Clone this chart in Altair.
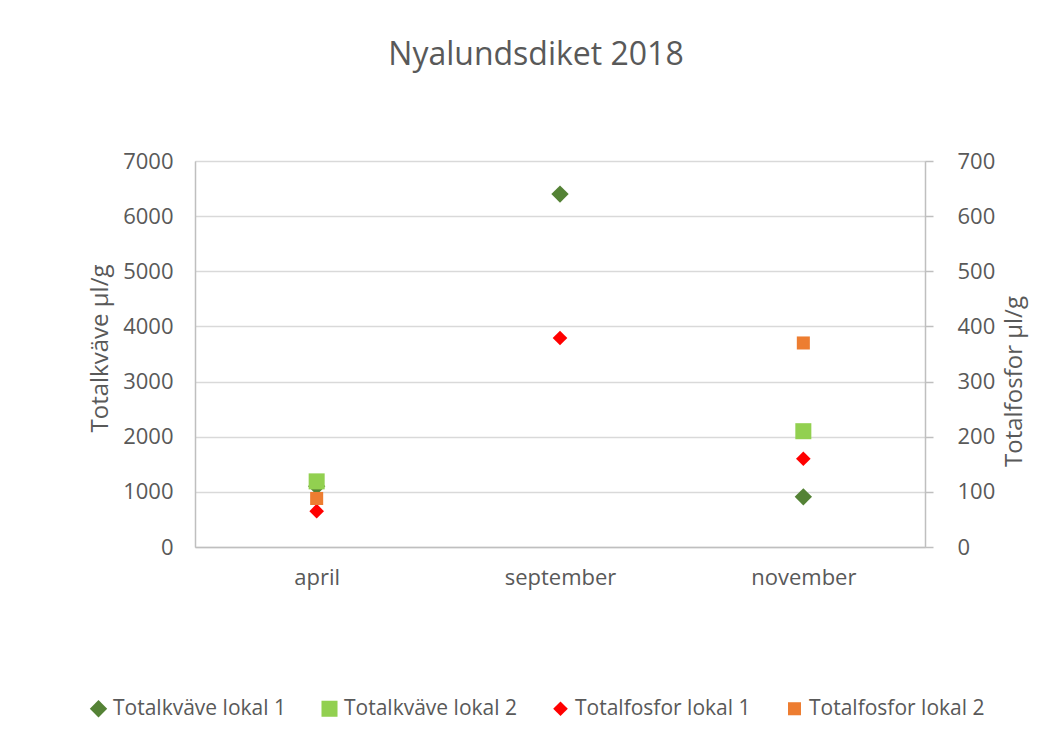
import altair as alt
import pandas as pd

months = ["april", "september", "november"]
series_names = ["Totalkväve lokal 1", "Totalkväve lokal 2", "Totalfosfor lokal 1", "Totalfosfor lokal 2"]
kvave_lokal1 = [1100, 6400, 910]
kvave_lokal2 = [1190, None, 2100]
fosfor_lokal1 = [65, 379, 160]
fosfor_lokal2 = [88, None, 370]

colors = ["#548235", "#92D050", "#FF0000", "#ED7D31"]
shapes = ["diamond", "square", "diamond", "square"]
marker_sizes = [300, 170, 300, 170]

def long(vals, name):
    return [{"month": m, "value": v, "serie": name} for m, v in zip(months, vals) if v is not None]

kv = pd.DataFrame(long(kvave_lokal1, series_names[0]) + long(kvave_lokal2, series_names[1]))
fo = pd.DataFrame(long(fosfor_lokal1, series_names[2]) + long(fosfor_lokal2, series_names[3]))

FONT = "Open Sans"
TXT = "#595959"
LINE = "#BFBFBF"

color_enc = alt.Color("serie:N", scale=alt.Scale(domain=series_names, range=colors),
                      legend=alt.Legend(title=None, orient="none", legendX=-107, legendY=537,
                                        direction="horizontal", columns=4, columnPadding=33,
                                        symbolSize=110, symbolStrokeWidth=0, labelOffset=4,
                                        labelFontSize=21, labelColor=TXT, labelFont=FONT,
                                        labelLimit=300))
shape_enc = alt.Shape("serie:N", scale=alt.Scale(domain=series_names, range=shapes), legend=None)
size_enc = alt.Size("serie:N", scale=alt.Scale(domain=series_names, range=marker_sizes), legend=None)

x_enc = alt.X("month:N", sort=months, scale=alt.Scale(domain=months),
              axis=alt.Axis(title=None, labelAngle=0, labelFontSize=22, labelColor=TXT, labelFont=FONT,
                            labelPadding=20, ticks=False, domain=True, domainColor=LINE,
                            domainWidth=1.5, grid=False))

left = alt.Chart(kv).mark_point(filled=True, opacity=1).encode(
    x=x_enc,
    y=alt.Y("value:Q", scale=alt.Scale(domain=[0, 7000], nice=False),
            axis=alt.Axis(title="Totalkväve µl/g", values=list(range(0, 7001, 1000)), format="d",
                          labelFontSize=22, labelColor=TXT, labelFont=FONT, labelPadding=22,
                          ticks=False, domain=True, domainColor=LINE, domainWidth=1.5,
                          grid=True, gridColor="#D9D9D9", gridWidth=1.5,
                          titleFontSize=24, titleFontWeight="normal", titleColor=TXT,
                          titleFont=FONT, titlePadding=10, titleY=187)),
    color=color_enc,
    shape=shape_enc,
    size=size_enc,
)

right = alt.Chart(fo).mark_point(filled=True, opacity=1).encode(
    x=x_enc,
    y=alt.Y("value:Q", scale=alt.Scale(domain=[0, 700], nice=False),
            axis=alt.Axis(title="Totalfosfor µl/g", orient="right", values=list(range(0, 701, 100)),
                          format="d",
                          labelFontSize=22, labelColor=TXT, labelFont=FONT, labelPadding=24,
                          ticks=True, tickSize=8, tickColor=LINE, tickWidth=1.5,
                          domain=True, domainColor=LINE, domainWidth=1.5, grid=False,
                          titleFontSize=24, titleFontWeight="normal", titleColor=TXT,
                          titleFont=FONT, titlePadding=8, titleAngle=270, titleBaseline="top",
                          titleY=220)),
    color=color_enc,
    shape=shape_enc,
    size=size_enc,
)

chart = alt.layer(left, right).resolve_scale(y="independent").properties(
    width=730, height=386,
    title=alt.TitleParams("Nyalundsdiket 2018", fontSize=32, font=FONT, color=TXT,
                          fontWeight="normal", anchor="middle", offset=78, dx=-24),
    autosize=alt.AutoSizeParams(type="none"),
    padding={"left": 187, "top": 153, "right": 120, "bottom": 180},
).configure_view(stroke=None).configure(background="white")

chart.save("out.html", embed_options={"renderer": "svg", "actions": False})
